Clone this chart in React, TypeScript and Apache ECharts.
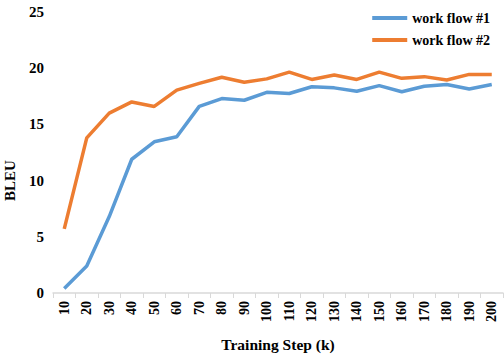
import React, { useEffect, useRef } from "react";
import * as echarts from "echarts";

const steps = ["10","20","30","40","50","60","70","80","90","100","110","120","130","140","150","160","170","180","190","200"];
const workflow1 = [0.4, 2.4, 6.8, 11.9, 13.45, 13.9, 16.6, 17.3, 17.15, 17.85, 17.75, 18.35, 18.25, 17.95, 18.45, 17.9, 18.4, 18.55, 18.15, 18.55];
const workflow2 = [5.7, 13.8, 16.0, 17.0, 16.6, 18.05, 18.65, 19.2, 18.75, 19.05, 19.65, 19.0, 19.4, 19.0, 19.65, 19.1, 19.25, 18.95, 19.45, 19.45];
const yTicks = [0, 5, 10, 15, 20, 25];

const FONT = "Times New Roman, Liberation Serif, DejaVu Serif, serif";

export default function App() {
  const ref = useRef<HTMLDivElement>(null);
  useEffect(() => {
    if (!ref.current) return;
    const chart = echarts.init(ref.current, null, { renderer: "svg" });
    chart.setOption({
      animation: false,
      backgroundColor: "#ffffff",
      textStyle: { fontFamily: FONT },
      grid: { left: 53, right: 1, top: 12, bottom: 61, containLabel: false, outerBoundsMode: "none" },
      legend: {
        top: 6,
        right: 9,
        orient: "vertical",
        itemWidth: 35,
        itemHeight: 4,
        itemGap: 8,
        icon: "rect",
        textStyle: { fontFamily: FONT, fontSize: 14, fontWeight: "bold", color: "#000" },
        data: ["work flow #1", "work flow #2"],
      },
      xAxis: {
        type: "category",
        data: steps,
        boundaryGap: true,
        name: "Training Step (k)",
        nameLocation: "middle",
        nameGap: 43,
        nameTextStyle: { fontFamily: FONT, fontSize: 15.5, fontWeight: "bold", color: "#000" },
        axisLine: { lineStyle: { color: "#d9d9d9", width: 1.5 } },
        axisTick: { show: true, alignWithLabel: false, length: 5, lineStyle: { color: "#d9d9d9" } },
        axisLabel: { rotate: 90, margin: 8, fontFamily: FONT, fontSize: 14, fontWeight: "bold", color: "#000", interval: 0 },
        splitLine: { show: false },
      },
      yAxis: {
        type: "value",
        min: yTicks[0],
        max: yTicks[yTicks.length - 1],
        interval: 5,
        name: "BLEU",
        nameLocation: "middle",
        nameGap: 36,
        nameTextStyle: { fontFamily: FONT, fontSize: 15, fontWeight: "bold", color: "#000", padding: [0, 56, 0, 0] },
        axisLine: { show: false },
        axisTick: { show: false },
        splitLine: { show: false },
        axisLabel: { margin: 9, fontFamily: FONT, fontSize: 15, fontWeight: "bold", color: "#000" },
      },
      series: [
        {
          name: "work flow #1",
          type: "line",
          data: workflow1,
          symbol: "none",
          lineStyle: { color: "#5B9BD5", width: 3.5 },
          itemStyle: { color: "#5B9BD5" },
        },
        {
          name: "work flow #2",
          type: "line",
          data: workflow2,
          symbol: "none",
          lineStyle: { color: "#ED7D31", width: 3.5 },
          itemStyle: { color: "#ED7D31" },
        },
      ],
    });
    return () => chart.dispose();
  }, []);
  return <div ref={ref} style={{ width: 504, height: 354, position: "absolute", left: 0, top: 0 }} />;
}
